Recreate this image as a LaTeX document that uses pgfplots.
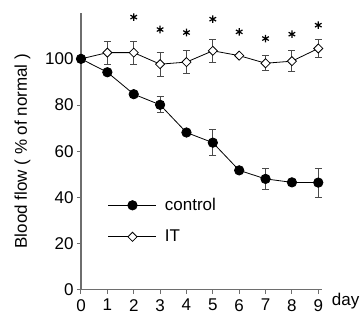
\documentclass[border=0pt]{standalone}
\usepackage{pgfplots}
\pgfplotsset{compat=1.18}
\usepackage{fontspec}
\setmainfont{Liberation Sans}
\definecolor{axgray}{HTML}{6E6E6E}
\definecolor{errgray}{HTML}{4A4A4A}

% day, mean blood flow (% of normal), s.e.
\pgfplotstableread{
day  y      e
0    100.0  0.0
1    94.2   1.0
2    84.7   1.0
3    80.1   3.5
4    68.1   1.0
5    63.7   5.6
6    51.7   1.0
7    48.0   4.6
8    46.5   1.0
9    46.4   6.3
}\control
\pgfplotstableread{
day  y      e
0    100.0  0.0
1    102.7  5.0
2    102.7  5.0
3    97.7   5.2
4    98.6   5.0
5    103.5  5.0
6    101.4  0.0
7    98.1   3.3
8    99.0   4.5
9    104.5  3.9
}\treated
\pgfplotstableread{
day  y
2    118.1
3    112.7
4    111.4
5    117.2
6    111.7
7    108.8
8    110.7
9    114.6
}\signif

\begin{document}
\begin{tikzpicture}
\useasboundingbox (-81pt,-31.3pt) rectangle (280pt,289.7pt);
\begin{axis}[
  scale only axis, width=240.7pt, height=277pt,
  xmin=0, xmax=9.13, ymin=0, ymax=120,
  axis lines=left,
  axis line style={axgray, line width=1.2pt, -},
  xtick={0,...,9}, ytick={0,20,...,100},
  tick align=outside, major tick length=4pt,
  tick style={axgray, line width=1pt},
  clip=false,
  /pgf/number format/assume math mode=true,
  tick label style={font=\fontsize{17}{20}\selectfont},
  xticklabel style={yshift=-2pt},
  xlabel={day},
  xlabel style={at={(axis description cs:1,0)}, anchor=north west,
    inner sep=0pt, xshift=10pt, yshift=-3.6pt, font=\fontsize{17}{20}\selectfont},
  ylabel={Blood flow ( \% of normal )},
  ylabel style={at={(axis description cs:-0.243,0.5)}, anchor=center,
    font=\fontsize{17}{20}\selectfont},
  legend style={draw=none, fill=none, at={(axis cs:1.02,29.8)}, anchor=west,
    inner sep=0pt, row sep=14pt, font=\fontsize{17}{20}\selectfont,
    /tikz/every odd column/.append style={column sep=6pt}},
  legend cell align=left,
  reverse legend,
  legend image code/.code={\draw[mark repeat=2, mark phase=2, #1]
    plot coordinates {(0pt,0pt) (24pt,0pt) (48pt,0pt)};},
]
\addplot[black, line width=0.8pt, mark=square*, mark size=3.2pt,
  mark options={rotate=45, fill=white, draw=black, line width=0.8pt},
  error bars/.cd, y dir=both, y explicit, error mark=|,
  error bar style={errgray, line width=0.9pt},
  error mark options={errgray, mark size=3.5pt, line width=0.9pt}]
  table[x=day, y=y, y error=e] {\treated};
\addlegendentry{IT}
\addplot[black, line width=0.8pt, mark=*, mark size=4.7pt,
  mark options={fill=black, draw=black},
  error bars/.cd, y dir=both, y explicit, error mark=|,
  error bar style={errgray, line width=0.9pt},
  error mark options={errgray, mark size=3.5pt, line width=0.9pt}]
  table[x=day, y=y, y error=e] {\control};
\addlegendentry{control}
\addplot[black, only marks, mark=asterisk, mark size=3.8pt,
  mark options={line width=1.2pt}, forget plot]
  table[x=day, y=y] {\signif};
\end{axis}
\end{tikzpicture}
\end{document}
